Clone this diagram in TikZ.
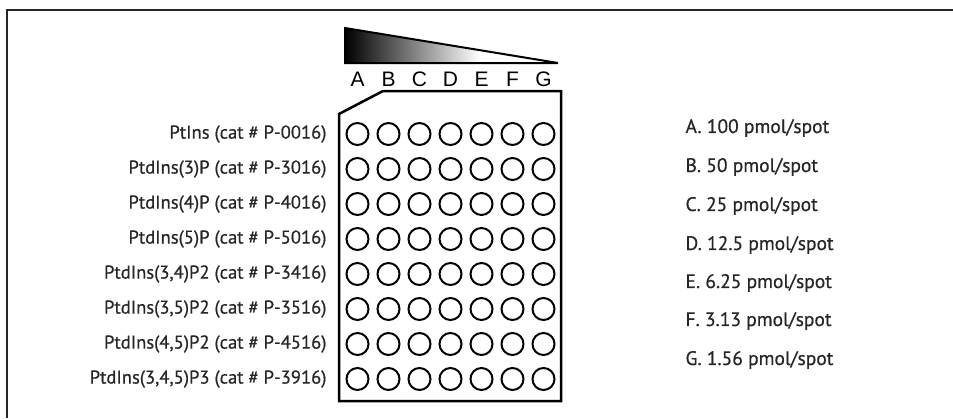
\documentclass[tikz,border=0pt]{standalone}
\usepackage{fontspec}
\setmainfont{PT Sans}
\newfontfamily\labelfont[FakeBold=0.6]{PT Sans}
\newfontfamily\lettersfont{Liberation Sans}
\usepackage{tikz}

\tikzset{
  spot/.style={line width=2pt},
  rowlabel/.style={anchor=east,font=\labelfont\fontsize{18.6}{20}\selectfont,text=black!85},
  conclabel/.style={anchor=west,font=\labelfont\fontsize{19.5}{21}\selectfont,text=black!85},
  collabel/.style={font=\lettersfont\fontsize{21}{22}\selectfont}
}

\begin{document}
\begin{tikzpicture}[x=1pt,y=-1pt]
\useasboundingbox (0,0) rectangle (953,418);
\draw[black!85,line width=2.5pt] (7,418) -- (7,10) -- (953,10);

\begin{scope}
\clip (345,28) -- (558,63) -- (345,63) -- cycle;
\fill[left color=black, right color=white] (345,28) rectangle (480,63);
\end{scope}
\draw[line width=2pt] (345,28) -- (558,63) -- (345,63) -- cycle;

\draw[line width=2.5pt] (383,91) -- (561,91) -- (561,401) -- (339,401) -- (339,114) -- cycle;

\foreach \c [count=\j from 0] in {A,B,C,D,E,F,G}{
  \node[collabel] (col\c) at (357.5+31*\j,79) {\c};
  \foreach \i in {0,...,7}
    \draw[spot] (357.5+31*\j,134+35*\i) circle (11);
}

\node[rowlabel] (r1) at (330,134) {PtIns (cat \# P-0016)};
\node[rowlabel] (r2) at (330,169) {PtdIns(3)P (cat \# P-3016)};
\node[rowlabel] (r3) at (330,204) {PtdIns(4)P (cat \# P-4016)};
\node[rowlabel] (r4) at (330,239) {PtdIns(5)P (cat \# P-5016)};
\node[rowlabel] (r5) at (330,274) {PtdIns(3,4)P2 (cat \# P-3416)};
\node[rowlabel] (r6) at (330,309) {PtdIns(3,5)P2 (cat \# P-3516)};
\node[rowlabel] (r7) at (330,344) {PtdIns(4,5)P2 (cat \# P-4516)};
\node[rowlabel] (r8) at (330,379) {PtdIns(3,4,5)P3 (cat \# P-3916)};

\node[conclabel] (cA) at (682,128) {A. 100 pmol/spot};
\node[conclabel] (cB) at (682,167) {B. 50 pmol/spot};
\node[conclabel] (cC) at (682,206) {C. 25 pmol/spot};
\node[conclabel] (cD) at (682,245) {D. 12.5 pmol/spot};
\node[conclabel] (cE) at (682,283) {E. 6.25 pmol/spot};
\node[conclabel] (cF) at (682,321) {F. 3.13 pmol/spot};
\node[conclabel] (cG) at (682,360) {G. 1.56 pmol/spot};
\end{tikzpicture}
\end{document}
